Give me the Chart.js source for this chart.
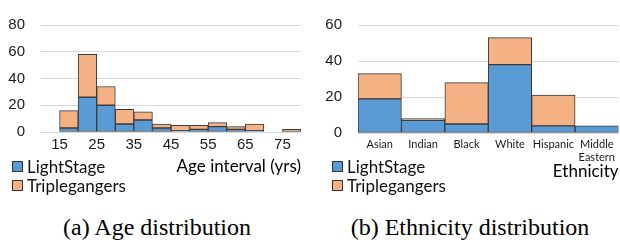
<!DOCTYPE html>
<html><head><meta charset="utf-8">
<script src="https://cdn.jsdelivr.net/npm/chart.js@4/dist/chart.umd.min.js"></script>
<style>
html,body{margin:0;padding:0;background:#fff;width:620px;height:242px;overflow:hidden;}
.wrap{position:absolute;top:0;width:310px;height:182px;}
.legend{position:absolute;font-family:Lato,sans-serif;font-size:17px;color:#111;}
.item{display:flex;align-items:center;height:19px;white-space:nowrap;}
.box{width:9px;height:9px;border:1px solid #333;margin-right:4px;}
.caption{position:absolute;top:213px;font-family:"Liberation Serif",serif;font-size:24px;color:#000;text-align:center;width:310px;line-height:28px;}
</style></head>
<body>
<div class="wrap" style="left:0"><canvas id="ageChart" width="310" height="182"></canvas></div>
<div class="wrap" style="left:310px"><canvas id="ethChart" width="310" height="182"></canvas></div>
<div class="legend" style="left:12px;top:157px">
  <div class="item"><span class="box" style="background:#5B9BD5"></span>LightStage</div>
  <div class="item"><span class="box" style="background:#F4B183"></span>Triplegangers</div>
</div>
<div class="legend" style="left:332px;top:157px">
  <div class="item"><span class="box" style="background:#5B9BD5"></span>LightStage</div>
  <div class="item"><span class="box" style="background:#F4B183"></span>Triplegangers</div>
</div>
<div class="caption" style="left:2px">(a) Age distribution</div>
<div class="caption" style="left:315px">(b) Ethnicity distribution</div>
<script>
// ---- data ----
const ageBins = [15, 20, 25, 30, 35, 40, 45, 50, 55, 60, 65, 70, 75];
const ageLightStage = [3, 26, 20, 6, 9, 3, 1, 2, 4, 2, 1, 0, 0];
const ageTriplegangers = [13, 32, 14, 11, 6, 3, 4, 3, 3, 2, 5, 0, 2];
const ageTicks = [15, 25, 35, 45, 55, 65, 75];
const ageYTicks = [0, 20, 40, 60, 80];

const ethnicities = ['Asian', 'Indian', 'Black', 'White', 'Hispanic', ['Middle', 'Eastern']];
const ethLightStage = [19, 7, 5, 38, 4, 4];
const ethTriplegangers = [14, 1, 23, 15, 17, 0];
const ethYTicks = [0, 20, 40, 60];

// ---- styles ----
const BLUE = '#5B9BD5', ORANGE = '#F4B183', EDGE = '#3a3a3a', GRID = '#d9d9d9', TXT = '#1a1a1a';
const binW = ageBins[1] - ageBins[0];
const barStyle = {borderColor: EDGE, borderWidth: 1, borderSkipped: false, barPercentage: 1, categoryPercentage: 1};

new Chart(document.getElementById('ageChart'), {
  type: 'bar',
  data: {
    datasets: [
      Object.assign({label: 'LightStage', backgroundColor: BLUE,
        data: ageBins.map((b, i) => ({x: b + binW / 2, y: ageLightStage[i]}))}, barStyle),
      Object.assign({label: 'Triplegangers', backgroundColor: ORANGE,
        data: ageBins.map((b, i) => ({x: b + binW / 2, y: ageTriplegangers[i]}))}, barStyle)
    ]
  },
  options: {
    responsive: false, animation: false, devicePixelRatio: 1,
    layout: {padding: {top: 9, right: 9, left: 0, bottom: 0}},
    plugins: {legend: {display: false}, tooltip: {enabled: false}},
    scales: {
      x: {
        type: 'linear', stacked: true, offset: false,
        min: ageBins[0] - binW, max: ageBins[ageBins.length - 1] + binW,
        afterBuildTicks: s => { s.ticks = ageTicks.map(v => ({value: v})); },
        afterFit: s => { s.height = 50; },
        grid: {display: false, drawTicks: false}, border: {display: false},
        ticks: {autoSkip: false, maxRotation: 0, padding: 4, color: TXT,
          font: {family: 'Liberation Sans', size: 15}},
        title: {display: true, text: 'Age interval (yrs)', align: 'end', color: '#000',
          font: {family: 'Lato', size: 17}, padding: {top: 0, bottom: 5}}
      },
      y: {
        stacked: true, min: ageYTicks[0], max: ageYTicks[ageYTicks.length - 1],
        afterBuildTicks: s => { s.ticks = ageYTicks.map(v => ({value: v})); },
        afterFit: s => { s.width = 41; },
        grid: {color: GRID, drawTicks: false, lineWidth: 1}, border: {display: false},
        ticks: {padding: 16, color: TXT, font: {family: 'Liberation Sans', size: 15}}
      }
    }
  }
});

new Chart(document.getElementById('ethChart'), {
  type: 'bar',
  data: {
    labels: ethnicities,
    datasets: [
      Object.assign({label: 'LightStage', backgroundColor: BLUE, data: ethLightStage}, barStyle),
      Object.assign({label: 'Triplegangers', backgroundColor: ORANGE, data: ethTriplegangers}, barStyle)
    ]
  },
  options: {
    responsive: false, animation: false, devicePixelRatio: 1,
    layout: {padding: {top: 18, right: 0, left: 0, bottom: 0}},
    plugins: {legend: {display: false}, tooltip: {enabled: false}},
    scales: {
      x: {
        stacked: true,
        afterFit: s => { s.height = 49; },
        grid: {display: false, drawTicks: false}, border: {display: false},
        ticks: {autoSkip: false, maxRotation: 0, padding: 5, color: TXT,
          font: {family: 'Lato', size: 11, lineHeight: 1.2}},
        title: {display: true, text: 'Ethnicity', align: 'end', color: '#000',
          font: {family: 'Lato', size: 17}, padding: {top: 0, bottom: 0}}
      },
      y: {
        stacked: true, min: ethYTicks[0], max: ethYTicks[ethYTicks.length - 1],
        afterBuildTicks: s => { s.ticks = ethYTicks.map(v => ({value: v})); },
        afterFit: s => { s.width = 48; },
        grid: {color: GRID, drawTicks: false, lineWidth: 1}, border: {display: false},
        ticks: {padding: 16, color: TXT, font: {family: 'Liberation Sans', size: 15}}
      }
    }
  }
});
</script>
</body></html>
